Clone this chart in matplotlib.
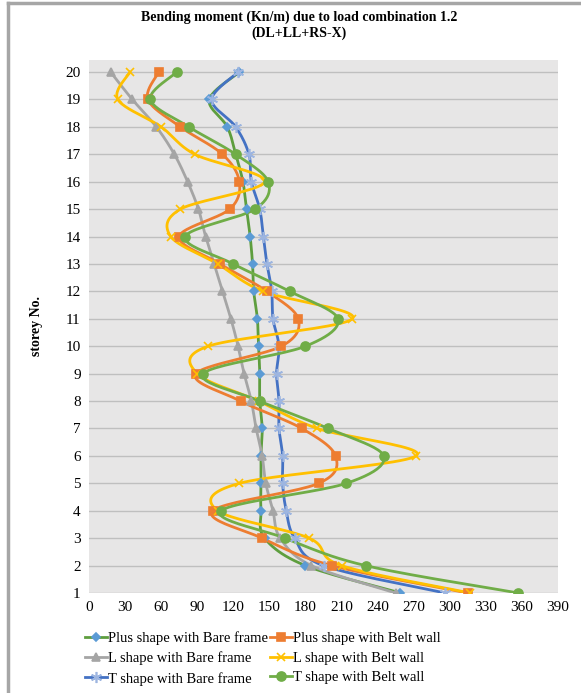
import numpy as np
import matplotlib
matplotlib.use("Agg")
import matplotlib.pyplot as plt
from matplotlib.lines import Line2D

plt.rcParams['font.family'] = ['Liberation Serif', 'DejaVu Serif']

# storey 1 -> 20
storeys = list(range(1, 21))
plus_bare = [259, 180, 146, 143, 143, 143, 144, 142, 142, 141, 140, 137, 136, 134, 131, 128, 122, 115, 100, 125]
plus_belt = [315, 202, 144, 103, 191, 205, 177, 126, 89, 160, 174, 148, 109, 75, 117, 125, 111, 76, 49, 58]
l_bare = [255, 185, 159, 153, 147, 144, 139, 135, 129, 124, 118, 111, 104, 97, 91, 82, 71, 56, 36, 18]
l_belt = [317, 210, 183, 107, 125, 272, 190, 141, 90, 99, 219, 145, 107, 68, 76, 146, 88, 60, 24, 34]
t_bare = [296, 195, 171, 164, 161, 161, 158, 158, 156, 158, 153, 152, 148, 145, 142, 135, 133, 122, 102, 124]
t_belt = [357, 230, 163, 110, 214, 245, 199, 142, 95, 180, 207, 167, 120, 80, 138, 149, 122, 83, 51, 73]

x_ticks = list(range(0, 391, 30))


def smooth(xv, yv, n=24):
    # excel style smoothed line (bezier through the points)
    p = np.column_stack([xv, yv]).astype(float)
    out = []
    for i in range(len(p) - 1):
        p0 = p[max(i - 1, 0)]
        p1 = p[i]
        p2 = p[i + 1]
        p3 = p[min(i + 2, len(p) - 1)]
        c1 = p1 + (p2 - p0) / 6
        c2 = p2 - (p3 - p1) / 6
        t = np.linspace(0, 1, n)[:, None]
        seg = (1 - t)**3 * p1 + 3 * (1 - t)**2 * t * c1 + 3 * (1 - t) * t**2 * c2 + t**3 * p2
        out.append(seg if i == 0 else seg[1:])
    s = np.vstack(out)
    return s[:, 0], s[:, 1]


fig = plt.figure(figsize=(5.81, 6.93), dpi=100)
ax = fig.add_axes([89 / 581, 1 - 593 / 693, (558 - 89) / 581, (593 - 60) / 693])
ax.set_facecolor('#E7E6E6')

series = [
    ('Plus shape with Bare frame', plus_bare, '#5E9E3E', 'D', '#5B9BD5', 4.5),
    ('L shape with Bare frame', l_bare, '#A5A5A5', '^', '#A5A5A5', 6),
    ('T shape with Bare frame', t_bare, '#4472C4', (6, 2, 0), '#9DB5E0', 8),
    ('Plus shape with Belt wall', plus_belt, '#ED7D31', 's', '#ED7D31', 6),
    ('L shape with Belt wall', l_belt, '#FFC000', 'x', '#FFC000', 6),
    ('T shape with Belt wall', t_belt, '#70AD47', 'o', '#70AD47', 6.5),
]

handles = []
for name, vals, lc, mk, mc, ms in series:
    sx, sy = smooth(vals, storeys)
    ax.plot(sx, sy, color=lc, lw=2, zorder=3)
for name, vals, lc, mk, mc, ms in series:
    ax.plot(vals, storeys, ls='none', marker=mk, color=mc, ms=ms, mew=1.2, zorder=4)
    handles.append(Line2D([0], [0], color=lc, lw=2, marker=mk, markerfacecolor=mc,
                          markeredgecolor=mc, ms=ms, mew=1.2, label=name))

ax.set_xlim(0, 390)
ax.set_ylim(1, 20.44)
ax.set_xticks(x_ticks)
ax.set_yticks(storeys)
ax.tick_params(length=0, labelsize=11, pad=6)
ax.grid(axis='y', color='#BFBFBF', lw=1)
ax.set_axisbelow(True)
for s in ax.spines.values():
    s.set_visible(False)

ax.set_ylabel('storey No.', fontweight='bold', fontsize=10, labelpad=16)

fig.text(0.515, 1 - 25 / 693, 'Bending moment (Kn/m) due to load combination 1.2\n(DL+LL+RS-X)',
         ha='center', va='center', fontweight='bold', fontsize=10, linespacing=1.2)

fig.legend(handles=handles, ncol=2, loc='upper left', bbox_to_anchor=(72 / 581, 1 - 618 / 693),
           frameon=False, fontsize=10.5, handlelength=1.5, handletextpad=0.1,
           columnspacing=0.1, labelspacing=0.45)

# outer frame of the picture
fig.add_artist(Line2D([8 / 581, 8 / 581], [0, 1 - 3 / 693], color='#A6A6A6', lw=2.5,
                      transform=fig.transFigure))
fig.add_artist(Line2D([8 / 581, 1], [1 - 3 / 693, 1 - 3 / 693], color='#A6A6A6', lw=2.5,
                      transform=fig.transFigure))

fig.savefig('out.png', dpi=100)
